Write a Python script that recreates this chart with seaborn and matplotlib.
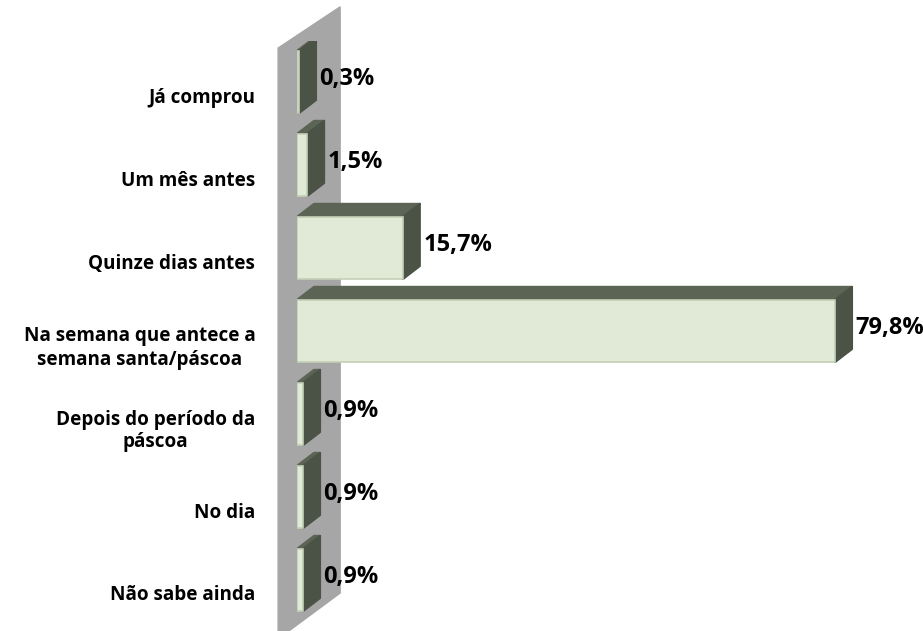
import matplotlib
matplotlib.use('Agg')
import matplotlib.pyplot as plt
import seaborn as sns
import pandas as pd
from matplotlib.patches import Polygon
from matplotlib.transforms import ScaledTranslation, blended_transform_factory

# Data
categories = ['Já comprou', 'Um mês antes', 'Quinze dias antes',
              'Na semana que antece a\nsemana santa/páscoa',
              'Depois do período da\npáscoa', 'No dia', 'Não sabe ainda']
percent = [0.3, 1.5, 15.7, 79.8, 0.9, 0.9, 0.9]
value_labels = ['0,3%', '1,5%', '15,7%', '79,8%', '0,9%', '0,9%', '0,9%']

df = pd.DataFrame({'categoria': categories, 'percentual': percent})

sns.set_style('white')
plt.rcParams['font.family'] = ['Open Sans', 'DejaVu Sans']

fig = plt.figure(figsize=(9.23, 6.31), dpi=100)
ax = fig.add_axes([297 / 923, 1 - 621.5 / 631, 626 / 923, 581 / 631])

# front faces of the bars
sns.barplot(data=df, x='percentual', y='categoria', orient='h',
            color='#E1ECD4', width=0.75, edgecolor='#C3CFB6',
            linewidth=1.2, ax=ax, zorder=3)
ax.set_xlim(0, 92.85)
ax.set_ylim(6.5, -0.5)

# fake 3D depth (in data units)
dx = 2.52
dy = 0.157

for p in ax.patches:
    x0, w = p.get_x(), p.get_width()
    y0, h = p.get_y(), p.get_height()
    top = Polygon([(x0, y0), (x0 + w, y0), (x0 + w + dx, y0 - dy), (x0 + dx, y0 - dy)],
                  closed=True, facecolor='#5B6455', edgecolor='#5B6455', lw=1.5,
                  joinstyle='round', zorder=2)
    side = Polygon([(x0 + w, y0), (x0 + w, y0 + h), (x0 + w + dx, y0 + h - dy),
                    (x0 + w + dx, y0 - dy)],
                   closed=True, facecolor='#4B5347', edgecolor='#4B5347', lw=1.5,
                   joinstyle='round', zorder=2)
    ax.add_patch(top)
    ax.add_patch(side)

# gray side wall
trans = blended_transform_factory(ax.transData, ax.transAxes)
wall = Polygon([(-2.8, 0.987), (-2.8, -0.03), (6.4, 0.049), (6.4, 1.058)],
               closed=True, facecolor='#A6A6A6', edgecolor='#A6A6A6',
               transform=trans, clip_on=False, zorder=1)
ax.add_patch(wall)

# value labels
for p, lab in zip(ax.patches[:len(percent)], value_labels):
    x_end = p.get_x() + p.get_width()
    yc = p.get_y() + p.get_height() / 2
    ax.annotate(lab, xy=(x_end + dx, yc - 0.04), xytext=(2.5, 0),
                textcoords='offset points', va='center', ha='left',
                fontsize=17, fontweight='bold', color='black', zorder=5)

ax.set_xlabel('')
ax.set_ylabel('')
ax.set_xticks([])
sns.despine(ax=ax, left=True, bottom=True)
ax.tick_params(axis='y', length=0, pad=30, labelcolor='black')
shift = ScaledTranslation(0, -13 / 100, fig.dpi_scale_trans)
for t in ax.get_yticklabels():
    t.set_fontsize(13.6)
    t.set_fontweight('bold')
    t.set_color('black')
    t.set_multialignment('center')
    t.set_transform(t.get_transform() + shift)

fig.savefig('out.png', dpi=100)
